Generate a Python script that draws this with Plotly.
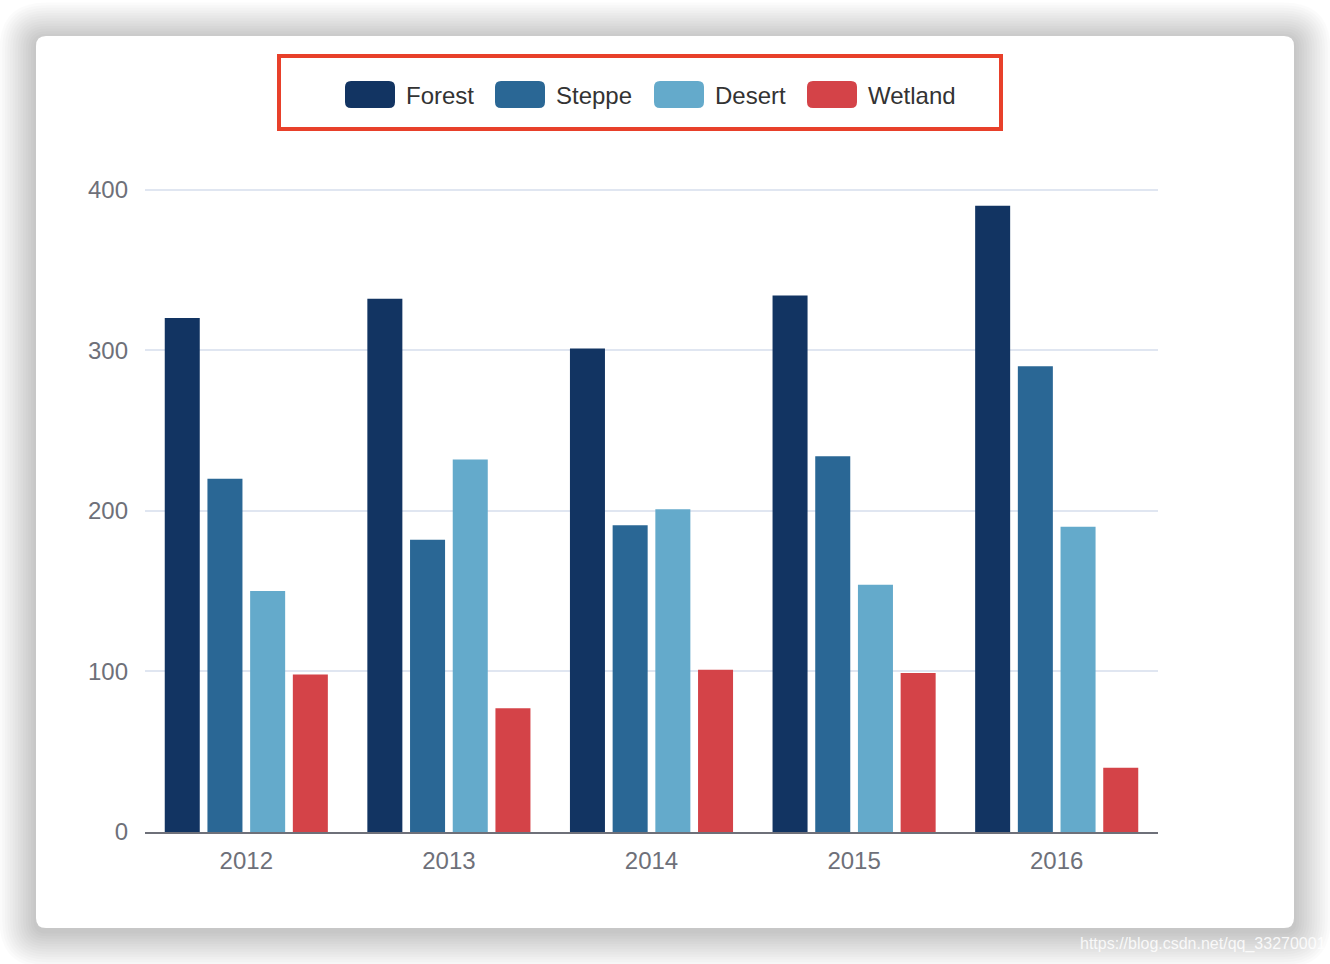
import plotly.graph_objects as go

years = ["2012", "2013", "2014", "2015", "2016"]
series_names = ["Forest", "Steppe", "Desert", "Wetland"]
forest = [320, 332, 301, 334, 390]
steppe = [220, 182, 191, 234, 290]
desert = [150, 232, 201, 154, 190]
wetland = [98, 77, 101, 99, 40]
colors = ["#123462", "#2a6795", "#64aacb", "#d44348"]
y_ticks = [0, 100, 200, 300, 400]

values = [forest, steppe, desert, wetland]

W, H = 1330, 964
L, R, T, B = 145, 1158, 188, 832
FONT = "Liberation Sans, Arial, sans-serif"


def px(X):
    return (X - L) / (R - L)


def py(Y):
    return (B - Y) / (B - T)


def rrect(x0, y0, x1, y1, r):
    return (
        f"M {px(x0 + r)},{py(y0)} L {px(x1 - r)},{py(y0)} "
        f"Q {px(x1)},{py(y0)} {px(x1)},{py(y0 + r)} "
        f"L {px(x1)},{py(y1 - r)} Q {px(x1)},{py(y1)} {px(x1 - r)},{py(y1)} "
        f"L {px(x0 + r)},{py(y1)} Q {px(x0)},{py(y1)} {px(x0)},{py(y1 - r)} "
        f"L {px(x0)},{py(y0 + r)} Q {px(x0)},{py(y0)} {px(x0 + r)},{py(y0)} Z"
    )


fig = go.Figure()
for name, vals, c in zip(series_names, values, colors):
    fig.add_trace(go.Bar(name=name, x=years, y=vals, marker=dict(color=c, line=dict(width=0)),
                         showlegend=False))

shapes = []
# card shadow
n = 14
for i in range(n, 0, -1):
    s = i * 2.6
    shapes.append(dict(type="path", xref="paper", yref="paper", layer="below",
                       path=rrect(36 - s, 36 - s + 3, 1294 + s, 928 + s + 3, 10 + s),
                       fillcolor="rgba(0,0,0,0.017)", line=dict(width=0)))
# card
shapes.append(dict(type="path", xref="paper", yref="paper", layer="below",
                   path=rrect(36, 36, 1294, 928, 10), fillcolor="#ffffff", line=dict(width=0)))
# legend highlight box
shapes.append(dict(type="rect", xref="paper", yref="paper", layer="above",
                   x0=px(279), x1=px(1001), y0=py(56), y1=py(129),
                   line=dict(color="#e8402a", width=4), fillcolor="rgba(0,0,0,0)"))

annotations = []
sw_x = [345, 495, 654, 807]
for name, c, x0 in zip(series_names, colors, sw_x):
    shapes.append(dict(type="path", xref="paper", yref="paper", layer="above",
                       path=rrect(x0, 81, x0 + 50, 108, 6), fillcolor=c, line=dict(width=0)))
    annotations.append(dict(xref="paper", yref="paper", x=px(x0 + 59), y=py(95),
                            xanchor="left", yanchor="middle", text=name, showarrow=False,
                            font=dict(size=24, color="#333333", family=FONT)))

annotations.append(dict(xref="paper", yref="paper", x=px(1078), y=py(944),
                        xanchor="left", yanchor="middle", text="https://blog.csdn.net/qq_33270001",
                        showarrow=False,
                        font=dict(size=16, color="rgba(255,255,255,0.85)", family=FONT)))

fig.update_layout(
    width=W, height=H,
    margin=dict(l=L, r=W - R, t=T, b=H - B, pad=0),
    paper_bgcolor="#ffffff",
    plot_bgcolor="rgba(0,0,0,0)",
    barmode="group",
    bargap=0.157,
    bargroupgap=0.18,
    shapes=shapes,
    annotations=annotations,
    font=dict(family=FONT, color="#6e7079"),
    xaxis=dict(showline=True, linecolor="#6e7079", linewidth=1.5, showgrid=False,
               ticks="", tickfont=dict(size=24, color="#6e7079"), ticklabelstandoff=6,
               zeroline=False),
    yaxis=dict(range=[0, 401], tickvals=y_ticks, showgrid=True, gridcolor="#e0e6f1",
               gridwidth=1.5, showline=False, zeroline=False, ticks="",
               tickfont=dict(size=24, color="#6e7079"), ticklabelstandoff=16),
)

fig.write_html("out.html", config={"displayModeBar": False},
               post_script="document.body.style.margin='0';document.body.style.overflow='hidden';")
